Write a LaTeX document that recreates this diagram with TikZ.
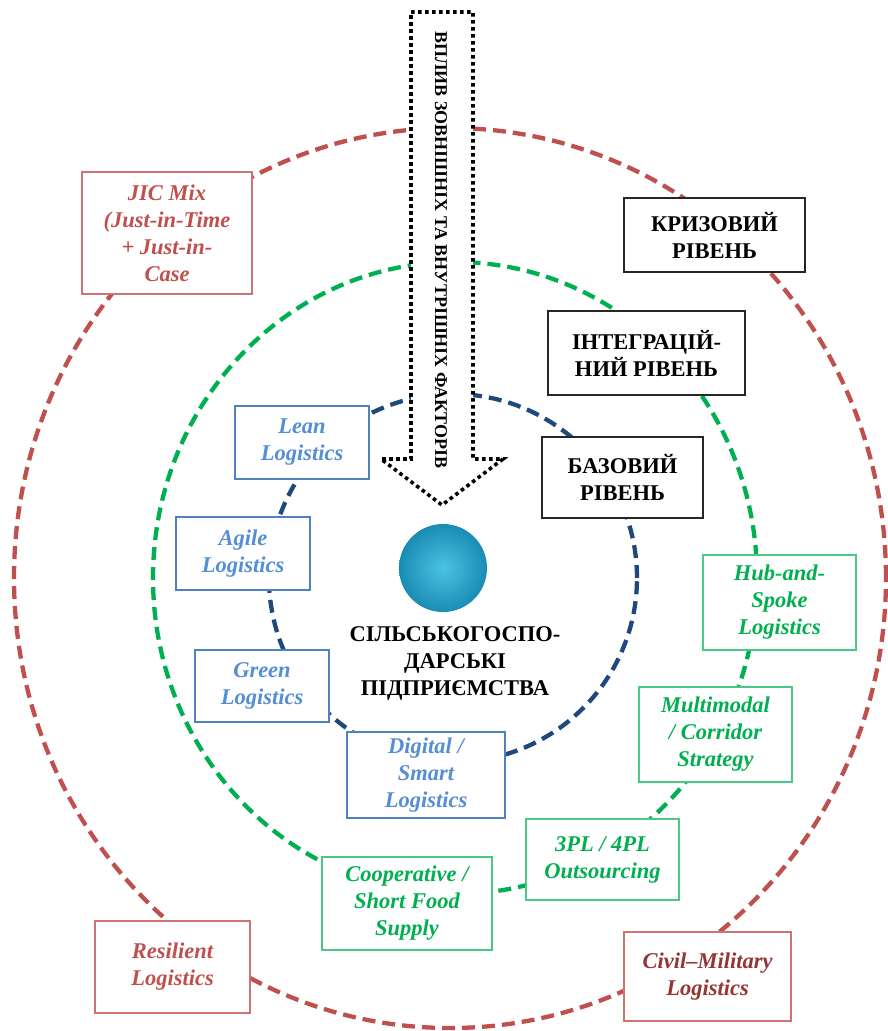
\documentclass[tikz,border=0pt]{standalone}
\usepackage{fontspec}
\setmainfont{Liberation Serif}
\definecolor{ringred}{HTML}{C0504D}
\definecolor{ringgreen}{HTML}{00B050}
\definecolor{ringblue}{HTML}{1F497D}
\definecolor{txtblue}{HTML}{558ED5}
\definecolor{boxblue}{HTML}{4F81BD}
\definecolor{txtdarkred}{HTML}{943634}
\definecolor{ballin}{RGB}{75,195,225}
\definecolor{ballout}{RGB}{25,140,180}
\tikzset{
    ring/.style={line width=4.3pt, dash pattern=on 13pt off 7pt},
    anybox/.style={fill=white, line width=1.2pt, align=center, inner sep=2pt,
        font=\fontsize{22.5}{27}\selectfont\bfseries\itshape},
    levelbox/.style={anybox, draw=black!85, font=\fontsize{22.5}{27}\selectfont\bfseries},
    redbox/.style={anybox, draw=ringred!80, text=ringred},
    greenbox/.style={anybox, draw=ringgreen!70, text=ringgreen},
    bluebox/.style={anybox, draw=boxblue, text=txtblue},
    sz/.style 2 args={minimum width=#1pt, minimum height=#2pt},
    dotline/.style={line width=3.6pt, dash pattern=on 3.6pt off 3.4pt}
}
\begin{document}
\begin{tikzpicture}[x=1pt,y=-1pt]
    \useasboundingbox (0,0) rectangle (887,1031);
    % levels
    \draw[ring, ringred] (450,578) ellipse [x radius=436pt, y radius=450pt];
    \draw[ring, ringgreen] (455,578) ellipse [x radius=302pt, y radius=316pt];
    \draw[ring, ringblue] (453,578) circle [radius=184pt];
    % arrow of factors
    \draw[dotline, fill=white] (411,12) -- (473,12) -- (473,459) -- (503,459)
        -- (442,505) -- (381,459) -- (411,459) -- cycle;
    \node[rotate=-90, font=\fontsize{18}{20}\selectfont\bfseries] (factors) at (441,250)
        {ВПЛИВ ЗОВНІШНІХ ТА ВНУТРІШНІХ ФАКТОРІВ};
    % enterprise
    \shade[inner color=ballin, outer color=ballout] (443,568) circle [radius=44pt];
    \node[font=\fontsize{22.5}{27}\selectfont\bfseries, align=center] (farm) at (455,663)
        {СІЛЬСЬКОГОСПО-\\ДАРСЬКІ\\ПІДПРИЄМСТВА};
    % level labels
    \node[levelbox, sz={181}{74}] (crisis) at (714.5,235) {КРИЗОВИЙ\\РІВЕНЬ};
    \node[levelbox, sz={197}{84}] (integr) at (646.5,353) {ІНТЕГРАЦІЙ-\\НИЙ РІВЕНЬ};
    \node[levelbox, sz={161}{81}] (basic) at (622.5,477.5) {БАЗОВИЙ\\РІВЕНЬ};
    % basic level
    \node[bluebox, sz={134}{73}] (lean) at (302,442.5) {Lean\\Logistics};
    \node[bluebox, sz={134}{73}] (agile) at (243,553.5) {Agile\\Logistics};
    \node[bluebox, sz={134}{72}] (green) at (262,686) {Green\\Logistics};
    \node[bluebox, sz={158}{86}] (digital) at (426,775) {Digital /\\Smart\\Logistics};
    % integration level
    \node[greenbox, sz={153}{95}] (hub) at (779.5,602.5) {Hub-and-\\Spoke\\Logistics};
    \node[greenbox, sz={153}{95}] (multi) at (715.5,734.5) {Multimodal\\/ Corridor\\Strategy};
    \node[greenbox, sz={153}{81}] (outs) at (602.5,859.5) {3PL / 4PL\\Outsourcing};
    \node[greenbox, sz={170}{93}] (coop) at (407,903.5) {Cooperative /\\Short Food\\Supply};
    % crisis level
    \node[redbox, sz={170}{122}] (jic) at (167,233) {JIC Mix\\(Just-in-Time\\+ Just-in-\\Case};
    \node[redbox, sz={155}{92}] (resil) at (172.5,967) {Resilient\\Logistics};
    \node[redbox, sz={167}{89}, text=txtdarkred] (civil) at (707.5,976.5) {Civil–Military\\Logistics};
\end{tikzpicture}
\end{document}
